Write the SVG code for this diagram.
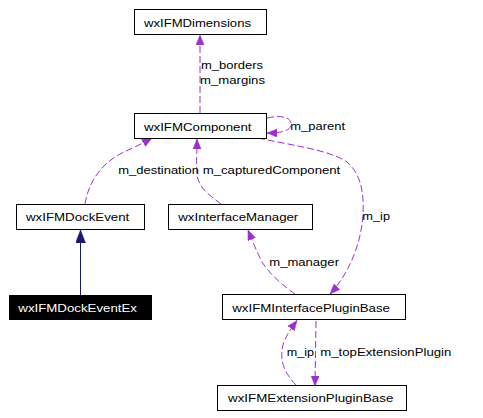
<svg xmlns="http://www.w3.org/2000/svg" width="483" height="418" viewBox="0 0 483 418">
<style>
.bg{fill:#ffffff}
.node rect{fill:#ffffff;stroke:#000000;stroke-width:1}
.node text{font-family:"Liberation Sans",Arial,Helvetica,sans-serif;font-size:11px;fill:#000000}
.node.hl rect{fill:#000000}
.node.hl text{fill:#ffffff}
.edge{fill:none;stroke:#9a32cd;stroke-width:1;stroke-dasharray:7,3}
.inh{fill:none;stroke:#191970;stroke-width:1}
.lbl{font-family:"Liberation Sans",Arial,Helvetica,sans-serif;font-size:11px;fill:#000000}
</style>
<defs>
<marker id="ap" markerUnits="userSpaceOnUse" markerWidth="12" markerHeight="10" refX="10" refY="4" orient="auto">
<path d="M0,0 L10,4 L0,8 z" fill="#9a32cd" stroke="#9a32cd" stroke-width="0.5"/>
</marker>
<marker id="an" markerUnits="userSpaceOnUse" markerWidth="14" markerHeight="12" refX="13" refY="5" orient="auto">
<path d="M0,0 L13,5 L0,10 z" fill="#191970" stroke="#191970" stroke-width="0.5"/>
</marker>
</defs>
<rect class="bg" x="0" y="0" width="483" height="418"/>
<g id="connectors">
<path class="edge" d="M200,113 L200,35" marker-end="url(#ap)"/>
<path class="edge" d="M267,118 C285,114 292,119 291,125 C290,131 281,133 267,133" marker-end="url(#ap)"/>
<path class="edge" d="M85,204 C88,184 100,164 122,153 C130,149 140,145 152,138" marker-end="url(#ap)"/>
<path class="edge" d="M221,204 C212,197 199,189 197,175 C196,165 197,155 197,139" marker-end="url(#ap)"/>
<path class="edge" d="M258,138 C290,145 330,150 347,162 C362,175 364,195 363,215 C361,245 348,275 330,294" marker-end="url(#ap)"/>
<path class="edge" d="M295,294 C285,287 270,275 262,262 C258,254 254,245 248,230" marker-end="url(#ap)"/>
<path class="edge" d="M316,321 L315,386" marker-end="url(#ap)"/>
<path class="edge" d="M296,385 C288,377 280,365 282,350 C283,340 290,330 297,320.5" marker-end="url(#ap)"/>
<path class="inh" d="M80.5,295 L80.5,230" marker-end="url(#an)"/>
<text class="lbl" x="201" y="69" textLength="62" lengthAdjust="spacingAndGlyphs">m_borders</text>
<text class="lbl" x="200" y="84" textLength="65" lengthAdjust="spacingAndGlyphs">m_margins</text>
<text class="lbl" x="290.3" y="129.5" textLength="54.7" lengthAdjust="spacingAndGlyphs">m_parent</text>
<text class="lbl" x="118.3" y="173.5" textLength="80.7" lengthAdjust="spacingAndGlyphs">m_destination</text>
<text class="lbl" x="202.7" y="173.5" textLength="137.6" lengthAdjust="spacingAndGlyphs">m_capturedComponent</text>
<text class="lbl" x="362.3" y="219.5" textLength="27.7" lengthAdjust="spacingAndGlyphs">m_ip</text>
<text class="lbl" x="269.3" y="265.5" textLength="69.7" lengthAdjust="spacingAndGlyphs">m_manager</text>
<text class="lbl" x="286.7" y="356" textLength="27.3" lengthAdjust="spacingAndGlyphs">m_ip</text>
<text class="lbl" x="320.3" y="356" textLength="131" lengthAdjust="spacingAndGlyphs">m_topExtensionPlugin</text>
</g>
<g id="wxIFMDimensions" class="node">
<rect x="134.5" y="9.5" width="132" height="25"/>
<text x="144" y="26.5" textLength="107" lengthAdjust="spacingAndGlyphs">wxIFMDimensions</text>
</g>
<g id="wxIFMComponent" class="node">
<rect x="134.5" y="113.5" width="132" height="25"/>
<text x="144" y="130.5" textLength="107.5" lengthAdjust="spacingAndGlyphs">wxIFMComponent</text>
</g>
<g id="wxIFMDockEvent" class="node">
<rect x="16.5" y="204.5" width="128" height="25"/>
<text x="26" y="221" textLength="103.3" lengthAdjust="spacingAndGlyphs">wxIFMDockEvent</text>
</g>
<g id="wxInterfaceManager" class="node">
<rect x="168.5" y="204.5" width="144" height="25"/>
<text x="178.3" y="221" textLength="120" lengthAdjust="spacingAndGlyphs">wxInterfaceManager</text>
</g>
<g id="wxIFMDockEventEx" class="node hl">
<rect x="9.5" y="295.5" width="142" height="24"/>
<text x="18.3" y="311.5" textLength="118.7" lengthAdjust="spacingAndGlyphs">wxIFMDockEventEx</text>
</g>
<g id="wxIFMInterfacePluginBase" class="node">
<rect x="222.5" y="294.5" width="183" height="25"/>
<text x="232.3" y="311.5" textLength="157.7" lengthAdjust="spacingAndGlyphs">wxIFMInterfacePluginBase</text>
</g>
<g id="wxIFMExtensionPluginBase" class="node">
<rect x="217.5" y="385.5" width="189" height="25"/>
<text x="228" y="402" textLength="165.3" lengthAdjust="spacingAndGlyphs">wxIFMExtensionPluginBase</text>
</g>
</svg>
